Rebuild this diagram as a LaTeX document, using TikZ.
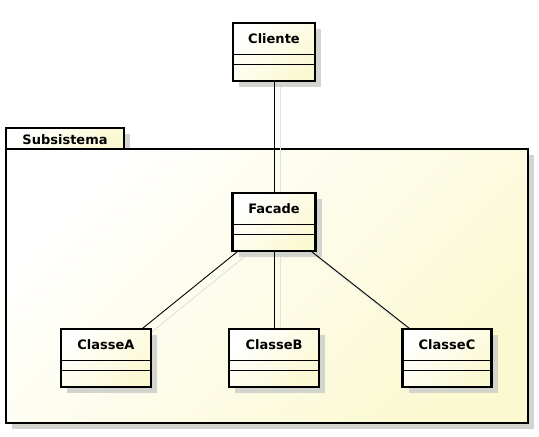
\documentclass[tikz,border=0pt]{standalone}
\usepackage{fontspec}
\setmainfont{DejaVu Sans}
\definecolor{ylw}{RGB}{251,249,210}
\definecolor{shd}{RGB}{212,212,206}
\tikzset{
  boxfill/.style={top color=white, bottom color=ylw, shading angle=45},
  clsbox/.style={draw=black, line width=2.6pt, boxfill, rectangle, inner sep=0pt, outer sep=0pt, minimum height=58pt},
  pkgbox/.style={draw=black, line width=2.6pt, boxfill, rectangle, inner sep=0pt, outer sep=0pt, anchor=north west},
  lbl/.style={font=\bfseries\fontsize{13}{15}\selectfont, inner sep=0pt},
  sepline/.style={line width=0.9pt},
  conn/.style={line width=0.9pt},
  connshadow/.style={line width=0.9pt, draw=shd!70, transform canvas={shift={(6pt,-6pt)}}},
  shadowfill/.style={fill=shd},
}
\newcommand{\umlcls}[5]{% name, text, cx, top, width
  \fill[shadowfill] ({#3-#5/2+6},{#4+6}) rectangle ({#3+#5/2+6},{#4+58+6});
  \node[clsbox, minimum width=#5pt, anchor=north] (#1) at (#3,#4) {};
  \node[lbl] (#1-t) at (#3,{#4+16}) {#2};
  \draw[sepline] ({#3-#5/2},{#4+31}) -- ({#3+#5/2},{#4+31});
  \draw[sepline] ({#3-#5/2},{#4+41}) -- ({#3+#5/2},{#4+41});
}
\begin{document}
\begin{tikzpicture}[x=1pt,y=-1pt]
\useasboundingbox (0,0) rectangle (539,437);
% package shadows
\fill[shadowfill] (12,134) rectangle (130,155);
\fill[shadowfill] (12,155) rectangle (534,429);
% package
\node[pkgbox, minimum width=118pt, minimum height=21pt] (tab) at (6,128) {};
\node[pkgbox, minimum width=522pt, minimum height=274pt] (pkg) at (6,149) {};
\node[lbl] (tabtext) at (65,140) {Subsistema};
% connector shadows
\coordinate (cl) at (274,52);
\coordinate (fa) at (274,222);
\coordinate (ca) at (106,358);
\coordinate (cb) at (274,358);
\coordinate (cc) at (447,358);
\draw[connshadow] (cl) -- (fa);
\draw[connshadow] (fa) -- (ca);
\draw[connshadow] (fa) -- (cb);
\draw[connshadow] (fa) -- (cc);
% classes
\umlcls{cliente}{Cliente}{274}{23}{82}
\umlcls{facade}{Facade}{274}{193}{83}
\umlcls{classeA}{ClasseA}{106}{329}{90}
\umlcls{classeB}{ClasseB}{274}{329}{90}
\umlcls{classeC}{ClasseC}{447}{329}{89}
% connectors
\draw[conn] (cliente) -- (facade);
\draw[conn] (facade) -- (classeA);
\draw[conn] (facade) -- (classeB);
\draw[conn] (facade) -- (classeC);
\end{tikzpicture}
\end{document}
